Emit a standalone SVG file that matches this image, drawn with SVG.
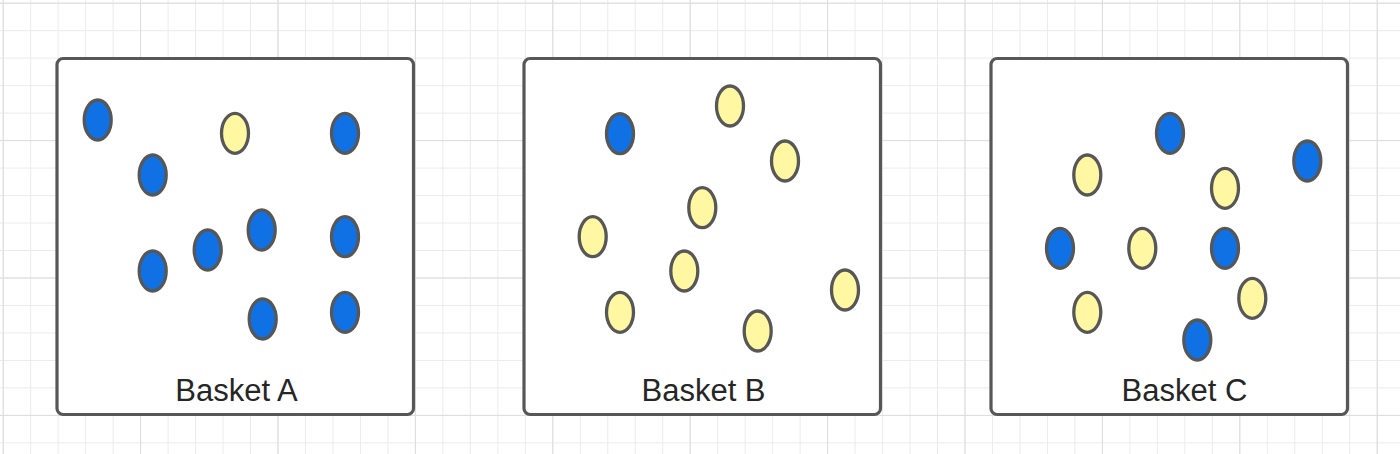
<svg xmlns="http://www.w3.org/2000/svg" width="1400" height="454" viewBox="0 0 1400 454">
<defs>
<style>
.minor{stroke:#ebebeb;stroke-width:1;fill:none}
.major{stroke:#dcdcdc;stroke-width:1;fill:none}
.box{fill:#ffffff;stroke:#575757;stroke-width:3.2}
.b{fill:#1071e5;stroke:#575757;stroke-width:3.3}
.y{fill:#fff7a1;stroke:#575757;stroke-width:3.3}
.lbl{font-family:"Liberation Sans",Arial,sans-serif;font-size:31px;fill:#262626;text-anchor:middle}
</style>
<pattern id="grid" x="2.7" y="2.7" width="27.48" height="27.48" patternUnits="userSpaceOnUse">
<path d="M0 0.5H27.48M0.5 0V27.48" class="minor"/>
</pattern>
<pattern id="gridmaj" x="2.7" y="2.7" width="137.4" height="137.4" patternUnits="userSpaceOnUse">
<path d="M0 0.5H137.4M0.5 0V137.4" class="major"/>
</pattern>
</defs>
<rect x="0" y="0" width="1400" height="454" fill="#ffffff"/>
<rect x="0" y="0" width="1400" height="454" fill="url(#grid)"/>
<rect x="0" y="0" width="1400" height="454" fill="url(#gridmaj)"/>

<g id="basketA">
<rect class="box" x="57" y="58.5" width="356.5" height="356" rx="6"/>
<ellipse class="b" cx="97.7" cy="120" rx="13.5" ry="20"/>
<ellipse class="b" cx="152.7" cy="175" rx="13.5" ry="20"/>
<ellipse class="y" cx="235" cy="133.3" rx="13.5" ry="20"/>
<ellipse class="b" cx="345" cy="133.3" rx="13.5" ry="20"/>
<ellipse class="b" cx="152.7" cy="271" rx="13.5" ry="20"/>
<ellipse class="b" cx="207.7" cy="250" rx="13.5" ry="20"/>
<ellipse class="b" cx="261.7" cy="230" rx="13.5" ry="20"/>
<ellipse class="b" cx="345" cy="236.7" rx="13.5" ry="20"/>
<ellipse class="b" cx="262.7" cy="319" rx="13.5" ry="20"/>
<ellipse class="b" cx="345" cy="312.3" rx="13.5" ry="20"/>
<text class="lbl" x="236.5" y="400.7">Basket A</text>
</g>

<g id="basketB">
<rect class="box" x="524" y="58.5" width="356.5" height="356" rx="6"/>
<ellipse class="b" cx="620" cy="133.7" rx="13.5" ry="20"/>
<ellipse class="y" cx="730" cy="106" rx="13.5" ry="20"/>
<ellipse class="y" cx="785" cy="161" rx="13.5" ry="20"/>
<ellipse class="y" cx="702.3" cy="207.7" rx="13.5" ry="20"/>
<ellipse class="y" cx="592.7" cy="236.7" rx="13.5" ry="20"/>
<ellipse class="y" cx="684.3" cy="271" rx="13.5" ry="20"/>
<ellipse class="y" cx="620" cy="312.3" rx="13.5" ry="20"/>
<ellipse class="y" cx="757.7" cy="331" rx="13.5" ry="20"/>
<ellipse class="y" cx="845" cy="290" rx="13.5" ry="20"/>
<text class="lbl" x="703.5" y="400.7">Basket B</text>
</g>

<g id="basketC">
<rect class="box" x="991" y="58.5" width="356.5" height="356" rx="6"/>
<ellipse class="b" cx="1170" cy="133.3" rx="13.5" ry="20"/>
<ellipse class="b" cx="1307.3" cy="161" rx="13.5" ry="20"/>
<ellipse class="y" cx="1087.3" cy="175" rx="13.5" ry="20"/>
<ellipse class="y" cx="1225" cy="188.3" rx="13.5" ry="20"/>
<ellipse class="b" cx="1060" cy="248.3" rx="13.5" ry="20"/>
<ellipse class="y" cx="1142.3" cy="248.3" rx="13.5" ry="20"/>
<ellipse class="b" cx="1225" cy="248.3" rx="13.5" ry="20"/>
<ellipse class="y" cx="1087.3" cy="312.3" rx="13.5" ry="20"/>
<ellipse class="y" cx="1252.3" cy="298.3" rx="13.5" ry="20"/>
<ellipse class="b" cx="1197.3" cy="340" rx="13.5" ry="20"/>
<text class="lbl" x="1184.5" y="400.7">Basket C</text>
</g>

<g id="connectors"/>
</svg>
